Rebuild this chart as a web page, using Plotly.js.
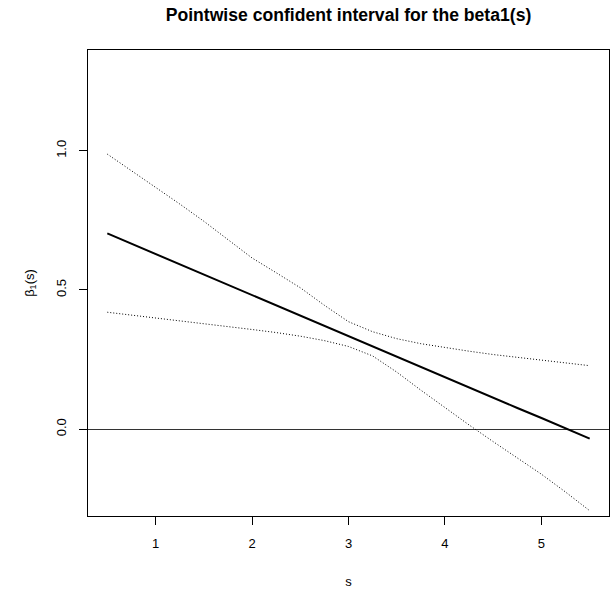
<!DOCTYPE html>
<html>
<head>
<meta charset="utf-8">
<script src="https://cdn.plot.ly/plotly-3.0.1.min.js"></script>
<style>html,body{margin:0;padding:0;background:#fff;}#plot{width:615px;height:592px;}</style>
</head>
<body>
<div id="plot"></div>
<script>
// s grid and curves
const s = [0.5, 0.75, 1.0, 1.25, 1.5, 1.75, 2.0, 2.25, 2.5, 2.75, 3.0, 3.25, 3.5, 3.75, 4.0, 4.25, 4.5, 4.75, 5.0, 5.25, 5.5];
const beta1 = [0.703, 0.666, 0.629, 0.592, 0.556, 0.519, 0.482, 0.445, 0.408, 0.371, 0.334, 0.298, 0.261, 0.224, 0.187, 0.150, 0.113, 0.076, 0.040, 0.003, -0.034];
const upper = [0.988, 0.929, 0.870, 0.809, 0.747, 0.682, 0.615, 0.562, 0.508, 0.445, 0.386, 0.350, 0.325, 0.307, 0.293, 0.280, 0.268, 0.258, 0.248, 0.238, 0.228];
const lower = [0.420, 0.410, 0.400, 0.390, 0.380, 0.369, 0.358, 0.347, 0.334, 0.318, 0.297, 0.263, 0.205, 0.140, 0.076, 0.015, -0.045, -0.102, -0.162, -0.226, -0.293];
const xTicks = [1, 2, 3, 4, 5];
const yTicks = [0.0, 0.5, 1.0];
const yTickText = ['0.0', '0.5', '1.0'];

const font = 'Liberation Sans, Arial, Helvetica, sans-serif';

const traces = [
  {x: s, y: beta1, mode: 'lines', line: {color: '#000', width: 2}, hoverinfo: 'skip'},
  {x: s, y: upper, mode: 'lines', line: {color: '#000', width: 1, dash: '1px,2px'}, hoverinfo: 'skip'},
  {x: s, y: lower, mode: 'lines', line: {color: '#000', width: 1, dash: '1px,2px'}, hoverinfo: 'skip'}
];

const layout = {
  width: 615, height: 592,
  margin: {l: 88, r: 6, t: 50, b: 76},
  paper_bgcolor: '#fff', plot_bgcolor: '#fff',
  showlegend: false,
  font: {family: font, color: '#000', size: 13},
  title: {text: '<b>Pointwise confident interval for the beta1(s)</b>',
          font: {family: font, size: 17.6, color: '#000'},
          xref: 'paper', x: 0.5, xanchor: 'center', y: 0.975, yanchor: 'middle'},
  xaxis: {
    range: [0.3, 5.7], tickvals: xTicks, ticktext: xTicks.map(String),
    ticks: 'outside', ticklen: 8, tickwidth: 1, tickcolor: '#000',
    showline: true, mirror: true, linecolor: '#000', linewidth: 1,
    showgrid: false, zeroline: false,
    tickfont: {family: font, size: 13, color: '#000'},
    ticklabelstandoff: 7,
    title: {text: 's', font: {family: font, size: 13, color: '#000'}, standoff: 27}
  },
  yaxis: {
    range: [-0.312, 1.362], tickvals: yTicks, ticktext: yTickText, tickangle: -90,
    ticks: 'outside', ticklen: 8, tickwidth: 1, tickcolor: '#000',
    showline: true, mirror: true, linecolor: '#000', linewidth: 1,
    showgrid: false, zeroline: true, zerolinecolor: '#333', zerolinewidth: 1,
    tickfont: {family: font, size: 13, color: '#000'},
    ticklabelstandoff: 8,
    title: {text: 'β<sub>1</sub>(s)', font: {family: font, size: 13, color: '#000'}, standoff: 16}
  }
};

Plotly.newPlot('plot', traces, layout, {staticPlot: true, displayModeBar: false});
</script>
</body>
</html>
